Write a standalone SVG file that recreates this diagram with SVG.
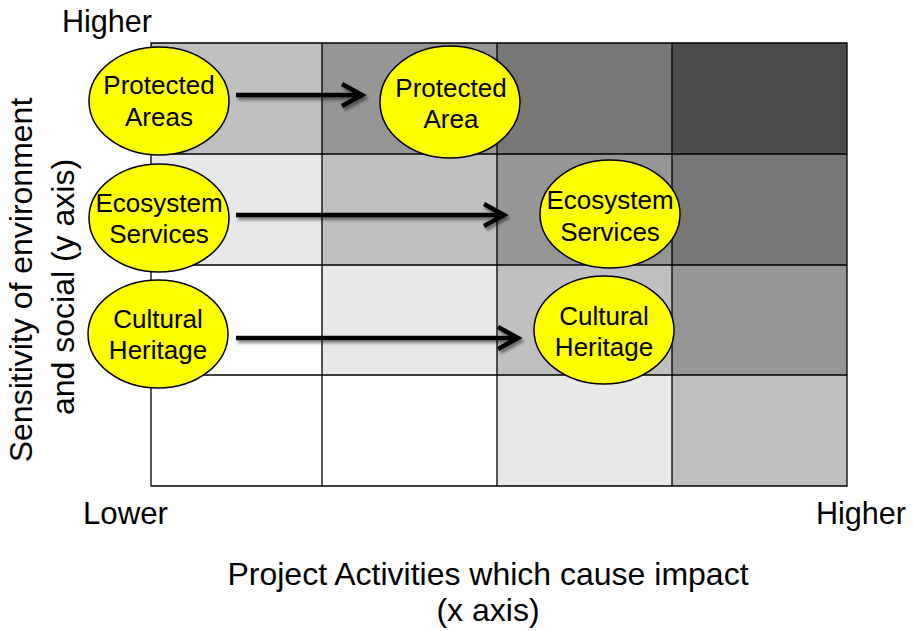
<svg xmlns="http://www.w3.org/2000/svg" width="913" height="631" viewBox="0 0 913 631">
<style>
.t{font-family:"Liberation Sans",Arial,sans-serif;fill:#000}
.ax{font-size:32px}
.nt{font-size:26px;text-anchor:middle}
.el{fill:#ffff00;stroke:#000;stroke-width:1.5}
.g{stroke:#000;stroke-width:1.3;fill:none}
.arr{fill:none;stroke:#000;stroke-width:4.5;stroke-linejoin:miter}
</style>
<defs>
<filter id="sh" x="-10%" y="-50%" width="120%" height="200%">
<feDropShadow dx="2" dy="3" stdDeviation="1.8" flood-color="#000" flood-opacity="0.45"/>
</filter>
</defs>
<g id="grid">
<rect x="151" y="43" width="171" height="111" fill="#c0c0c0"/>
<rect x="322" y="43" width="175" height="111" fill="#969696"/>
<rect x="497" y="43" width="175" height="111" fill="#777777"/>
<rect x="672" y="43" width="175" height="111" fill="#4d4d4d"/>
<rect x="151" y="154" width="171" height="111" fill="#e8e8e8"/>
<rect x="322" y="154" width="175" height="111" fill="#c0c0c0"/>
<rect x="497" y="154" width="175" height="111" fill="#969696"/>
<rect x="672" y="154" width="175" height="111" fill="#777777"/>
<rect x="151" y="265" width="171" height="110" fill="#ffffff"/>
<rect x="322" y="265" width="175" height="110" fill="#e8e8e8"/>
<rect x="497" y="265" width="175" height="110" fill="#c0c0c0"/>
<rect x="672" y="265" width="175" height="110" fill="#969696"/>
<rect x="151" y="375" width="171" height="111" fill="#ffffff"/>
<rect x="322" y="375" width="175" height="111" fill="#ffffff"/>
<rect x="497" y="375" width="175" height="111" fill="#e8e8e8"/>
<rect x="672" y="375" width="175" height="111" fill="#c0c0c0"/>
<path class="g" d="M151 43H847V486H151Z M322 43V486 M497 43V486 M672 43V486 M151 154H847 M151 265H847 M151 375H847"/>
</g>
<g id="connectors" filter="url(#sh)">
<path class="arr" d="M236 95H361 M342 84L362 95L342 106"/>
<path class="arr" d="M236 215H503 M484 204L504 215L484 226"/>
<path class="arr" d="M236 338H517 M498 327L518 338L498 349"/>
</g>
<g id="n-protected-areas">
<ellipse class="el" cx="159" cy="101" rx="70" ry="54"/>
<text class="t nt" x="159" y="94">Protected</text>
<text class="t nt" x="159" y="126">Areas</text>
</g>
<g id="n-ecosystem-left">
<ellipse class="el" cx="159" cy="218" rx="70" ry="54"/>
<text class="t nt" x="159" y="212">Ecosystem</text>
<text class="t nt" x="159" y="243">Services</text>
</g>
<g id="n-cultural-left">
<ellipse class="el" cx="158" cy="334" rx="70" ry="54"/>
<text class="t nt" x="158" y="328">Cultural</text>
<text class="t nt" x="158" y="359">Heritage</text>
</g>
<g id="n-protected-area">
<ellipse class="el" cx="450" cy="102" rx="70" ry="56"/>
<text class="t nt" x="451" y="97">Protected</text>
<text class="t nt" x="451" y="128">Area</text>
</g>
<g id="n-ecosystem-right">
<ellipse class="el" cx="610" cy="214" rx="70" ry="54"/>
<text class="t nt" x="610" y="209">Ecosystem</text>
<text class="t nt" x="610" y="241">Services</text>
</g>
<g id="n-cultural-right">
<ellipse class="el" cx="604" cy="330" rx="70" ry="54"/>
<text class="t nt" x="604" y="325">Cultural</text>
<text class="t nt" x="604" y="356">Heritage</text>
</g>
<g id="labels">
<text class="t ax" x="62" y="32" textLength="90" lengthAdjust="spacingAndGlyphs">Higher</text>
<text class="t ax" x="83" y="524" textLength="85" lengthAdjust="spacingAndGlyphs">Lower</text>
<text class="t ax" x="816" y="524" textLength="90" lengthAdjust="spacingAndGlyphs">Higher</text>
<text class="t ax" x="488" y="585" text-anchor="middle">Project Activities which cause impact</text>
<text class="t ax" x="488" y="621" text-anchor="middle">(x axis)</text>
<text class="t ax" transform="translate(32,280) rotate(-90)" text-anchor="middle">Sensitivity of environment</text>
<text class="t ax" transform="translate(74,287) rotate(-90)" text-anchor="middle">and social (y axis)</text>
</g>
</svg>
